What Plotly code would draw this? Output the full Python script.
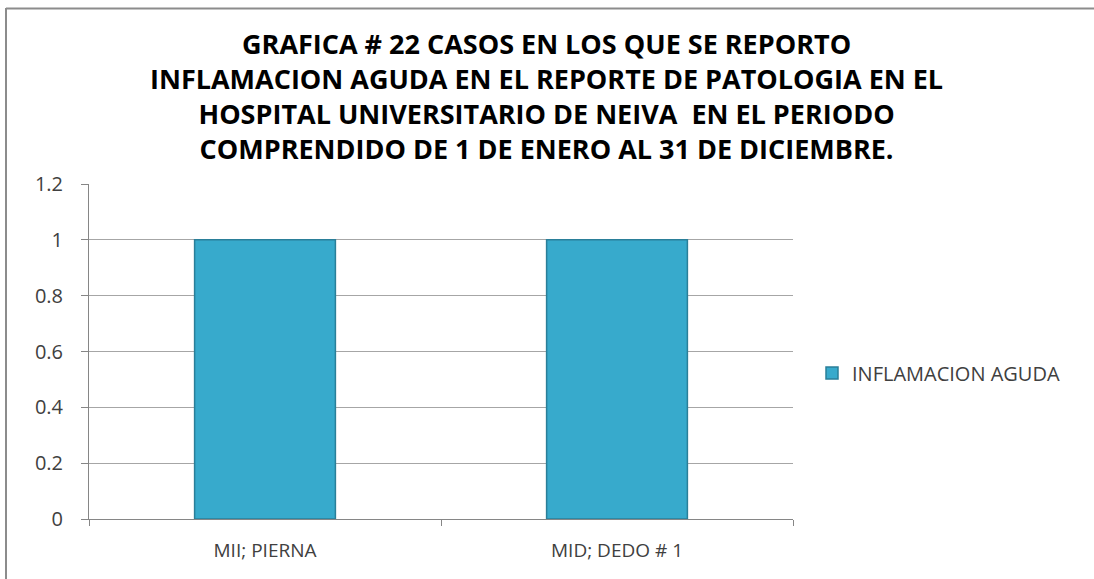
import plotly.graph_objects as go

categories = ["MII; PIERNA", "MID; DEDO # 1"]
values = [1, 1]
series_name = "INFLAMACION AGUDA"
title_lines = [
    "GRAFICA # 22 CASOS EN LOS QUE SE REPORTO",
    "INFLAMACION AGUDA EN EL REPORTE DE PATOLOGIA EN EL",
    "HOSPITAL UNIVERSITARIO DE NEIVA  EN EL PERIODO",
    "COMPRENDIDO DE 1 DE ENERO AL 31 DE DICIEMBRE.",
]

W, H = 1094, 579
L, R, T, B = 89, 301, 184, 60
pw, ph = W - L - R, H - T - B


def px_x(x):
    return (x - L) / pw


def px_y(y):
    return (H - B - y) / ph


fig = go.Figure()
fig.add_trace(go.Bar(
    x=categories, y=values, name=series_name,
    marker=dict(color="#37AACC", line=dict(color="#2A7F99", width=1.5)),
    showlegend=True,
))

fig.add_annotation(
    text="<b>" + "<br>".join(title_lines) + "</b>", xref="paper", yref="paper",
    x=px_x(546), y=px_y(96), xanchor="center", yanchor="middle",
    align="center", showarrow=False,
    font=dict(family="Open Sans, sans-serif", size=27, color="#000000"),
)

# outer frame (top and left edges visible)
fig.add_shape(type="line", xref="paper", yref="paper",
              x0=px_x(6), x1=px_x(1094), y0=px_y(8.5), y1=px_y(8.5),
              line=dict(color="#8C8C8C", width=2), layer="below")
fig.add_shape(type="line", xref="paper", yref="paper",
              x0=px_x(6), x1=px_x(6), y0=px_y(8), y1=px_y(579),
              line=dict(color="#8C8C8C", width=2), layer="below")

fig.update_layout(
    width=W, height=H,
    margin=dict(l=L, r=R, t=T, b=B, autoexpand=False),
    paper_bgcolor="white", plot_bgcolor="white",
    bargap=0.6,
    font=dict(family="Open Sans, sans-serif", size=19, color="#404040"),
    showlegend=True,
    legend=dict(x=px_x(812), y=px_y(373), xanchor="left", yanchor="middle",
                font=dict(size=20, color="#404040"), bgcolor="rgba(0,0,0,0)",
                itemwidth=30),
    xaxis=dict(showline=True, linecolor="#868686", linewidth=1, ticks="outside",
               tickson="boundaries", ticklen=6, tickcolor="#868686",
               showgrid=False, ticklabelstandoff=14, tickfont=dict(size=19)),
    yaxis=dict(range=[0, 1.2], dtick=0.2, showline=True, linecolor="#868686", linewidth=1,
               ticks="outside", ticklen=7, tickcolor="#868686",
               showgrid=True, gridcolor="#A6A6A6", gridwidth=1, zeroline=False,
               ticklabelstandoff=14, tickfont=dict(size=20)),
)

fig.write_html("out.html", config={"displayModeBar": False},
               post_script="document.body.style.margin='0';")
